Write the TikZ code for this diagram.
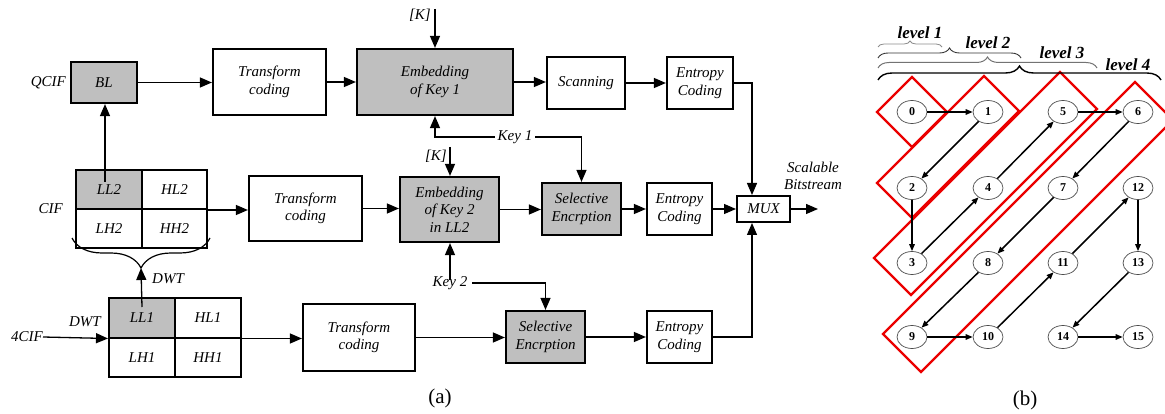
\documentclass[tikz,border=0pt]{standalone}
\usepackage{fontspec}
\setmainfont{Liberation Serif}
\usetikzlibrary{arrows.meta,decorations.pathreplacing,shapes.geometric}
\definecolor{boxgray}{RGB}{191,191,191}
\definecolor{redc}{RGB}{235,0,0}
\begin{document}
\begin{tikzpicture}[x=1pt,y=-1pt,
 box/.style={draw,line width=2.2pt,font=\fontsize{15}{17.5}\selectfont\itshape,align=center,inner sep=0pt},
 gbox/.style={box,fill=boxgray},
 cell/.style={draw,line width=2pt,font=\fontsize{15}{17.5}\selectfont\itshape,inner sep=0pt,minimum width=66pt,minimum height=39pt},
 conn/.style={line width=1.3pt,-{Triangle[length=12pt,width=10pt]}},
 lbl/.style={font=\fontsize{15}{17.5}\selectfont\itshape,inner sep=0pt,align=center},
 num/.style={draw=black!70,line width=0.7pt,ellipse,fill=white,minimum width=30pt,minimum height=23pt,inner sep=0pt,font=\fontsize{12}{12}\selectfont\bfseries},
 edgearrow/.style={line width=1.5pt,-{Triangle[length=7pt,width=5.5pt]}},
 redbox/.style={draw=redc,line width=2.4pt,line join=miter},
 lev/.style={font=\fontsize{17}{17}\selectfont\bfseries\itshape,inner sep=0pt},
 capt/.style={font=\fontsize{21}{21}\selectfont,inner sep=0pt},
]
\useasboundingbox (0,0) rectangle (1165,414);

% ---------- panel (a) ----------
\node[gbox,minimum width=66pt,minimum height=41pt] (BL) at (104,82.5) {BL};
\node[box,minimum width=113pt,minimum height=66pt] (TC1) at (269.5,82) {Transform\\coding};
\node[gbox,minimum width=156pt,minimum height=66pt] (E1) at (435,82) {Embedding\\of Key 1};
\node[box,minimum width=78pt,minimum height=52pt] (Scan) at (586,83) {Scanning};
\node[box,minimum width=66pt,minimum height=52pt] (EC1) at (700,83) {Entropy\\Coding};

\node[box,minimum width=113pt,minimum height=65pt] (TC2) at (305.5,208.5) {Transform\\coding};
\node[gbox,minimum width=99pt,minimum height=65pt] (E2) at (449.5,209.5) {Embedding\\of Key 2\\in LL2};
\node[gbox,minimum width=79pt,minimum height=52pt] (SE1) at (581.5,209) {Selective\\Encrption};
\node[box,minimum width=65pt,minimum height=52pt] (EC2) at (679.5,209) {Entropy\\Coding};
\node[box,line width=2pt,minimum width=53pt,minimum height=26pt] (MUX) at (763.5,209) {MUX};

\node[box,minimum width=112pt,minimum height=67pt] (TC3) at (359,337.5) {Transform\\coding};
\node[gbox,minimum width=79pt,minimum height=52pt] (SE2) at (545.5,337) {Selective\\Encrption};
\node[box,minimum width=65pt,minimum height=52pt] (EC3) at (679.5,337) {Entropy\\Coding};

% CIF grid
\node[cell,fill=boxgray] (LL2) at (109,189.5) {LL2};
\node[cell,minimum width=65pt] (HL2) at (174.5,189.5) {HL2};
\node[cell] (LH2) at (109,228.5) {LH2};
\node[cell,minimum width=65pt] (HH2) at (174.5,228.5) {HH2};
% 4CIF grid
\node[cell,fill=boxgray,minimum height=39.5pt] (LL1) at (142,317.75) {LL1};
\node[cell,minimum height=39.5pt] (HL1) at (208,317.75) {HL1};
\node[cell,minimum height=39.5pt] (LH1) at (142,357.25) {LH1};
\node[cell,minimum height=39.5pt] (HH1) at (208,357.25) {HH1};

% labels
\node[lbl,anchor=east] (qcif) at (66,83) {QCIF};
\node[lbl,anchor=east] (cif) at (63,209) {CIF};
\node[lbl,anchor=east] (c4) at (43,337) {4CIF};
\node[lbl] (dwt1) at (85,322) {DWT};
\node[lbl,anchor=west] (dwt2) at (152,279) {DWT};
\node[lbl,anchor=east] (K1) at (431,15) {[K]};
\node[lbl,anchor=east] (K2) at (447,156) {[K]};
\node[lbl] (key1) at (515,137) {Key 1};
\node[lbl] (key2) at (450,283) {Key 2};
\node[lbl] (sb) at (813,176) {Scalable\\Bitstream};

\coordinate (mx) at (752,0);
\coordinate (k1s) at (435,9);
\coordinate (k2s) at (450,147);
\coordinate (ll2s) at (105,182);
\coordinate (ll1s) at (142,307);
\coordinate (bt) at (141,268);
\coordinate (out) at (818,209);

% connectors top row
\draw[conn] (BL.east) -- (BL.east -| TC1.west);
\draw[conn] (TC1.east) -- (TC1.east -| E1.west);
\draw[conn] (E1.east) -- (E1.east -| Scan.west);
\draw[conn] (Scan.east) -- (Scan.east -| EC1.west);
\draw[conn] (EC1.east) -- (EC1.east -| mx) -- (mx |- MUX.north);
\draw[conn] (k1s) -- (k1s |- E1.north);
\draw[conn] ([xshift=-3pt]key1.west) -| (k1s |- E1.south);
\draw[conn] ([xshift=3pt]key1.east) -| (SE1.north);
% middle row
\draw[conn] (ll2s) -- (ll2s |- BL.south);
\draw[conn] (HL2.south east) -- (HL2.south east -| TC2.west);
\draw[conn] (TC2.east) -- (TC2.east -| E2.west);
\draw[conn] (k2s) -- (k2s |- E2.north);
\draw[conn] (E2.east) -- (E2.east -| SE1.west);
\draw[conn] (SE1.east) -- (SE1.east -| EC2.west);
\draw[conn] (EC2.east) -- (EC2.east -| MUX.west);
\draw[conn] (MUX.east) -- (out);
% bottom row
\draw[conn] ([yshift=-4pt]key2.north) -- (key2.north |- E2.south);
\draw[conn] ([xshift=5pt]key2.east) -| (SE2.north);
\draw[conn] (c4.east) -- (LL1.south west);
\draw[conn] (HL1.south east) -- (HL1.south east -| TC3.west);
\draw[conn] (TC3.east) -- (TC3.east -| SE2.west);
\draw[conn] (SE2.east) -- (SE2.east -| EC3.west);
\draw[conn] (EC3.east) -- (EC3.east -| mx) -- (mx |- MUX.south);
% brace and DWT arrow
\draw[line width=1.2pt,decorate,decoration={brace,amplitude=30pt}] (210,238) -- (72,238);
\draw[conn] (ll1s) -- (bt);

\node[capt] (capa) at (440,398) {(a)};

% ---------- panel (b) ----------
\draw[redbox] (877,112) -- (912,77) -- (947,112) -- (912,147) -- cycle;
\draw[redbox] (877,183) -- (984,76) -- (1019,111) -- (912,218) -- cycle;
\draw[redbox] (874,258) -- (1060,72) -- (1097,109) -- (911,295) -- cycle;
\draw[redbox] (883,334) -- (1135,82) -- (1173,120) -- (921,372) -- cycle;

\draw[black!45,line width=0.8pt,decorate,decoration={brace,amplitude=6pt}] (878,47) -- (942,47);
\draw[black!80,line width=0.9pt,decorate,decoration={brace,amplitude=10pt}] (878,58) -- (1021,58);
\draw[black!55,line width=1pt,decorate,decoration={brace,amplitude=11pt}] (878,68) -- (1097,68);
\draw[black,line width=1.4pt,decorate,decoration={brace,amplitude=14pt}] (878,80) -- (1161,80);
\node[lev] (lv1) at (920,33) {level 1};
\node[lev] (lv2) at (988,43) {level 2};
\node[lev] (lv3) at (1062,53) {level 3};
\node[lev] (lv4) at (1128,65) {level 4};

\node[num] (n0) at (912,112) {0};
\node[num] (n1) at (988,112) {1};
\node[num] (n5) at (1063,112) {5};
\node[num] (n6) at (1138,112) {6};
\node[num] (n2) at (912,188) {2};
\node[num] (n4) at (988,188) {4};
\node[num] (n7) at (1063,188) {7};
\node[num] (n12) at (1138,188) {12};
\node[num] (n3) at (912,263) {3};
\node[num] (n8) at (988,263) {8};
\node[num] (n11) at (1063,263) {11};
\node[num] (n13) at (1138,263) {13};
\node[num] (n9) at (912,337) {9};
\node[num] (n10) at (988,337) {10};
\node[num] (n14) at (1063,337) {14};
\node[num] (n15) at (1138,337) {15};

\draw[edgearrow] (n0) -- (n1);
\draw[edgearrow] (n1) -- (n2);
\draw[edgearrow] (n2) -- (n3);
\draw[edgearrow] (n3) -- (n4);
\draw[edgearrow] (n4) -- (n5);
\draw[edgearrow] (n5) -- (n6);
\draw[edgearrow] (n6) -- (n7);
\draw[edgearrow] (n7) -- (n8);
\draw[edgearrow] (n8) -- (n9);
\draw[edgearrow] (n9) -- (n10);
\draw[edgearrow] (n10) -- (n11);
\draw[edgearrow] (n11) -- (n12);
\draw[edgearrow] (n12) -- (n13);
\draw[edgearrow] (n13) -- (n14);
\draw[edgearrow] (n14) -- (n15);

\node[capt] (capb) at (1025,400) {(b)};
\end{tikzpicture}
\end{document}
